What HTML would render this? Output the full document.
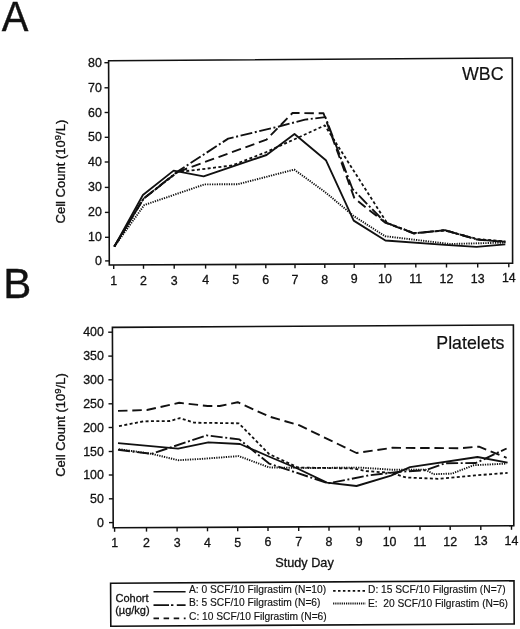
<!DOCTYPE html>
<html><head><meta charset="utf-8"><title>WBC and Platelets</title>
<style>
html,body{margin:0;padding:0;background:#fff;}
svg{display:block;will-change:transform;}
text{font-family:"Liberation Sans", sans-serif;fill:#111;stroke:#111;stroke-width:0.3px;}
.big{stroke-width:0.2px;}
.nos{stroke-width:0.4px;}
.leg{stroke-width:0.15px;}
</style></head><body>
<svg width="520" height="629" viewBox="0 0 520 629">
<rect width="520" height="629" fill="#fff"/>

<text transform="translate(1.8,31) scale(0.94,1)" font-size="42.5" class="nos">A</text>
<text x="3.2" y="297.6" font-size="42" class="nos">B</text>
<polygon points="108.6,60.8 512.3,58.0 512.6,263.2 109.3,265.0" fill="none" stroke="#111" stroke-width="1.6"/>
<line x1="104.4" y1="62.7" x2="108.6" y2="62.7" stroke="#111" stroke-width="1.4"/>
<text x="101.9" y="66.7" font-size="12.4" text-anchor="end">80</text>
<line x1="104.5" y1="87.8" x2="108.7" y2="87.8" stroke="#111" stroke-width="1.4"/>
<text x="101.9" y="91.8" font-size="12.4" text-anchor="end">70</text>
<line x1="104.6" y1="112.5" x2="108.8" y2="112.5" stroke="#111" stroke-width="1.4"/>
<text x="101.9" y="116.5" font-size="12.4" text-anchor="end">60</text>
<line x1="104.7" y1="137.3" x2="108.9" y2="137.3" stroke="#111" stroke-width="1.4"/>
<text x="101.9" y="141.3" font-size="12.4" text-anchor="end">50</text>
<line x1="104.7" y1="162.0" x2="108.9" y2="162.0" stroke="#111" stroke-width="1.4"/>
<text x="101.9" y="166.0" font-size="12.4" text-anchor="end">40</text>
<line x1="104.8" y1="187.4" x2="109.0" y2="187.4" stroke="#111" stroke-width="1.4"/>
<text x="101.9" y="191.4" font-size="12.4" text-anchor="end">30</text>
<line x1="104.9" y1="212.4" x2="109.1" y2="212.4" stroke="#111" stroke-width="1.4"/>
<text x="101.9" y="216.4" font-size="12.4" text-anchor="end">20</text>
<line x1="105.0" y1="237.3" x2="109.2" y2="237.3" stroke="#111" stroke-width="1.4"/>
<text x="101.9" y="241.3" font-size="12.4" text-anchor="end">10</text>
<line x1="105.1" y1="260.9" x2="109.3" y2="260.9" stroke="#111" stroke-width="1.4"/>
<text x="101.9" y="264.9" font-size="12.4" text-anchor="end">0</text>
<line x1="113.7" y1="265.0" x2="113.7" y2="269.0" stroke="#111" stroke-width="1.4"/>
<text x="113.7" y="285.0" font-size="12.4" text-anchor="middle">1</text>
<line x1="143.5" y1="264.8" x2="143.5" y2="268.8" stroke="#111" stroke-width="1.4"/>
<text x="143.5" y="284.8" font-size="12.4" text-anchor="middle">2</text>
<line x1="174.2" y1="264.7" x2="174.2" y2="268.7" stroke="#111" stroke-width="1.4"/>
<text x="174.2" y="284.6" font-size="12.4" text-anchor="middle">3</text>
<line x1="205.6" y1="264.6" x2="205.6" y2="268.6" stroke="#111" stroke-width="1.4"/>
<text x="205.6" y="284.4" font-size="12.4" text-anchor="middle">4</text>
<line x1="235.8" y1="264.4" x2="235.8" y2="268.4" stroke="#111" stroke-width="1.4"/>
<text x="235.8" y="284.2" font-size="12.4" text-anchor="middle">5</text>
<line x1="265.8" y1="264.3" x2="265.8" y2="268.3" stroke="#111" stroke-width="1.4"/>
<text x="265.8" y="284.0" font-size="12.4" text-anchor="middle">6</text>
<line x1="295.0" y1="264.2" x2="295.0" y2="268.2" stroke="#111" stroke-width="1.4"/>
<text x="295.0" y="283.8" font-size="12.4" text-anchor="middle">7</text>
<line x1="324.8" y1="264.0" x2="324.8" y2="268.0" stroke="#111" stroke-width="1.4"/>
<text x="324.8" y="283.6" font-size="12.4" text-anchor="middle">8</text>
<line x1="354.2" y1="263.9" x2="354.2" y2="267.9" stroke="#111" stroke-width="1.4"/>
<text x="354.2" y="283.4" font-size="12.4" text-anchor="middle">9</text>
<line x1="385.0" y1="263.8" x2="385.0" y2="267.8" stroke="#111" stroke-width="1.4"/>
<text x="385.0" y="283.2" font-size="12.4" text-anchor="middle">10</text>
<line x1="415.8" y1="263.6" x2="415.8" y2="267.6" stroke="#111" stroke-width="1.4"/>
<text x="415.8" y="283.0" font-size="12.4" text-anchor="middle">11</text>
<line x1="446.5" y1="263.5" x2="446.5" y2="267.5" stroke="#111" stroke-width="1.4"/>
<text x="446.5" y="282.8" font-size="12.4" text-anchor="middle">12</text>
<line x1="477.7" y1="263.4" x2="477.7" y2="267.4" stroke="#111" stroke-width="1.4"/>
<text x="477.7" y="282.6" font-size="12.4" text-anchor="middle">13</text>
<line x1="508.8" y1="263.2" x2="508.8" y2="267.2" stroke="#111" stroke-width="1.4"/>
<text x="508.8" y="282.4" font-size="12.4" text-anchor="middle">14</text>
<text transform="translate(65.0,171.6) rotate(-90)" x="0" y="0" font-size="13" text-anchor="middle">Cell Count (10<tspan font-size="9.6" dy="-3.7">9</tspan><tspan dy="3.7">/L)</tspan></text>
<text x="503.5" y="80" font-size="17.8" class="big" text-anchor="end">WBC</text>
<polyline points="114.3,246.6 144.3,205.0 204.6,184.4 238.0,184.2 294.2,169.6 325.0,192.0 353.7,216.0 385.0,236.2 450.0,244.0 505.3,242.6" fill="none" stroke="#111" stroke-linejoin="round" stroke-width="1.9" stroke-dasharray="1.25 1.15"/>
<polyline points="114.3,246.6 143.6,198.6 177.5,172.2 232.0,165.5 266.5,152.0 324.8,125.4 387.0,223.0 414.0,233.0 445.0,230.5 477.0,239.0 505.3,241.5" fill="none" stroke="#111" stroke-linejoin="round" stroke-width="1.8" stroke-dasharray="3 2.4"/>
<polyline points="114.3,246.6 143.6,198.6 177.5,172.0 266.5,139.6 292.5,113.0 323.5,113.3 354.5,198.5 385.0,222.5 414.0,233.5 445.0,230.2 477.0,239.5 505.3,242.0" fill="none" stroke="#111" stroke-linejoin="round" stroke-width="1.9" stroke-dasharray="9.5 4.8"/>
<polyline points="114.3,246.6 143.6,198.6 177.5,171.6 228.2,138.6 278.8,126.5 305.0,119.6 325.4,117.1 352.5,189.0 385.0,222.3 414.0,233.3 445.0,230.2 477.0,239.5 505.3,241.8" fill="none" stroke="#111" stroke-linejoin="round" stroke-width="1.9" stroke-dasharray="12 2.6 2 2.6"/>
<polyline points="114.3,246.6 142.9,195.0 173.6,170.6 203.6,176.3 266.5,155.0 294.5,134.0 325.9,160.2 353.7,220.6 385.4,240.5 445.0,244.8 476.5,246.8 505.3,244.3" fill="none" stroke="#111" stroke-linejoin="round" stroke-width="1.85"/>
<polygon points="112.4,327.4 513.4,325.0 513.8,525.8 113.2,527.8" fill="none" stroke="#111" stroke-width="1.6"/>
<line x1="108.2" y1="332.2" x2="112.4" y2="332.2" stroke="#111" stroke-width="1.4"/>
<text x="103.9" y="336.2" font-size="12.4" text-anchor="end">400</text>
<line x1="108.3" y1="356.1" x2="112.5" y2="356.1" stroke="#111" stroke-width="1.4"/>
<text x="103.9" y="360.1" font-size="12.4" text-anchor="end">350</text>
<line x1="108.4" y1="379.8" x2="112.6" y2="379.8" stroke="#111" stroke-width="1.4"/>
<text x="103.9" y="383.8" font-size="12.4" text-anchor="end">300</text>
<line x1="108.5" y1="403.8" x2="112.7" y2="403.8" stroke="#111" stroke-width="1.4"/>
<text x="103.9" y="407.8" font-size="12.4" text-anchor="end">250</text>
<line x1="108.6" y1="427.5" x2="112.8" y2="427.5" stroke="#111" stroke-width="1.4"/>
<text x="103.9" y="431.5" font-size="12.4" text-anchor="end">200</text>
<line x1="108.7" y1="451.5" x2="112.9" y2="451.5" stroke="#111" stroke-width="1.4"/>
<text x="103.9" y="455.5" font-size="12.4" text-anchor="end">150</text>
<line x1="108.8" y1="475.0" x2="113.0" y2="475.0" stroke="#111" stroke-width="1.4"/>
<text x="103.9" y="479.0" font-size="12.4" text-anchor="end">100</text>
<line x1="108.9" y1="498.8" x2="113.1" y2="498.8" stroke="#111" stroke-width="1.4"/>
<text x="103.9" y="502.8" font-size="12.4" text-anchor="end">50</text>
<line x1="109.0" y1="522.6" x2="113.2" y2="522.6" stroke="#111" stroke-width="1.4"/>
<text x="103.9" y="526.6" font-size="12.4" text-anchor="end">0</text>
<line x1="114.6" y1="527.8" x2="114.6" y2="531.8" stroke="#111" stroke-width="1.4"/>
<text x="114.6" y="547.2" font-size="12.4" text-anchor="middle">1</text>
<line x1="146.5" y1="527.6" x2="146.5" y2="531.6" stroke="#111" stroke-width="1.4"/>
<text x="146.5" y="547.0" font-size="12.4" text-anchor="middle">2</text>
<line x1="177.1" y1="527.5" x2="177.1" y2="531.5" stroke="#111" stroke-width="1.4"/>
<text x="177.1" y="546.9" font-size="12.4" text-anchor="middle">3</text>
<line x1="207.5" y1="527.3" x2="207.5" y2="531.3" stroke="#111" stroke-width="1.4"/>
<text x="207.5" y="546.7" font-size="12.4" text-anchor="middle">4</text>
<line x1="237.7" y1="527.2" x2="237.7" y2="531.2" stroke="#111" stroke-width="1.4"/>
<text x="237.7" y="546.6" font-size="12.4" text-anchor="middle">5</text>
<line x1="268.0" y1="527.0" x2="268.0" y2="531.0" stroke="#111" stroke-width="1.4"/>
<text x="268.0" y="546.4" font-size="12.4" text-anchor="middle">6</text>
<line x1="298.7" y1="526.9" x2="298.7" y2="530.9" stroke="#111" stroke-width="1.4"/>
<text x="298.7" y="546.3" font-size="12.4" text-anchor="middle">7</text>
<line x1="329.0" y1="526.7" x2="329.0" y2="530.7" stroke="#111" stroke-width="1.4"/>
<text x="329.0" y="546.1" font-size="12.4" text-anchor="middle">8</text>
<line x1="359.2" y1="526.6" x2="359.2" y2="530.6" stroke="#111" stroke-width="1.4"/>
<text x="359.2" y="546.0" font-size="12.4" text-anchor="middle">9</text>
<line x1="389.6" y1="526.4" x2="389.6" y2="530.4" stroke="#111" stroke-width="1.4"/>
<text x="389.6" y="545.8" font-size="12.4" text-anchor="middle">10</text>
<line x1="420.0" y1="526.3" x2="420.0" y2="530.3" stroke="#111" stroke-width="1.4"/>
<text x="420.0" y="545.7" font-size="12.4" text-anchor="middle">11</text>
<line x1="450.2" y1="526.1" x2="450.2" y2="530.1" stroke="#111" stroke-width="1.4"/>
<text x="450.2" y="545.6" font-size="12.4" text-anchor="middle">12</text>
<line x1="480.8" y1="526.0" x2="480.8" y2="530.0" stroke="#111" stroke-width="1.4"/>
<text x="480.8" y="545.4" font-size="12.4" text-anchor="middle">13</text>
<line x1="511.5" y1="525.8" x2="511.5" y2="529.8" stroke="#111" stroke-width="1.4"/>
<text x="511.5" y="545.3" font-size="12.4" text-anchor="middle">14</text>
<text transform="translate(65.0,425) rotate(-90)" x="0" y="0" font-size="13" text-anchor="middle">Cell Count (10<tspan font-size="9.6" dy="-3.7">9</tspan><tspan dy="3.7">/L)</tspan></text>
<text x="504.5" y="349" font-size="17.8" class="big" text-anchor="end">Platelets</text>
<polyline points="119.0,449.2 151.5,453.8 178.1,460.2 200.0,459.0 238.8,456.1 269.1,467.4 310.0,468.0 360.0,467.6 392.3,469.7 425.4,469.6 433.5,474.2 451.9,473.6 473.8,465.2 506.6,463.6" fill="none" stroke="#111" stroke-linejoin="round" stroke-width="1.9" stroke-dasharray="1.25 1.15"/>
<polyline points="119.0,426.1 143.8,421.3 170.0,421.0 179.8,418.1 194.2,422.7 238.8,423.3 269.0,454.0 298.0,467.5 353.8,468.5 365.4,471.0 392.0,473.0 406.0,477.5 438.0,478.8 475.0,475.4 507.6,472.9" fill="none" stroke="#111" stroke-linejoin="round" stroke-width="1.8" stroke-dasharray="3 2.4"/>
<polyline points="118.0,410.9 146.9,410.0 179.2,402.8 207.7,406.0 219.8,406.0 237.7,402.2 269.1,416.5 299.0,425.2 356.5,453.0 392.3,447.8 460.0,448.2 479.0,446.6 506.6,457.8" fill="none" stroke="#111" stroke-linejoin="round" stroke-width="1.9" stroke-dasharray="9.5 4.8"/>
<polyline points="118.0,449.8 151.5,453.8 206.5,435.4 239.4,439.4 269.1,463.6 328.3,483.3 370.0,475.2 400.4,471.7 425.4,470.2 445.0,463.3 475.9,463.0 506.6,448.5" fill="none" stroke="#111" stroke-linejoin="round" stroke-width="1.9" stroke-dasharray="12 2.6 2 2.6"/>
<polyline points="118.0,443.2 178.1,448.6 208.3,442.3 240.0,444.0 270.0,457.0 298.5,469.0 326.9,482.6 356.5,486.0 391.0,475.6 410.0,467.2 477.5,457.0 507.6,462.7" fill="none" stroke="#111" stroke-linejoin="round" stroke-width="1.85"/>
<text x="304.5" y="566.5" font-size="12.7" text-anchor="middle">Study Day</text>
<polygon points="110.6,583.3 514.0,580.8 514.2,624.0 110.8,626.2" fill="none" stroke="#111" stroke-width="1.6"/>
<text x="115.5" y="602.1" font-size="11">Cohort</text>
<text x="115.2" y="613.6" font-size="11">(µg/kg)</text>
<line x1="153.5" y1="591.8" x2="185.6" y2="591.8" stroke="#111" stroke-width="1.6"/>
<text x="189.0" y="593.2" font-size="10.22" class="leg">A: 0 SCF/10 Filgrastim (N=10)</text>
<line x1="153.5" y1="605.2" x2="185.6" y2="605.2" stroke="#111" stroke-width="1.7" stroke-dasharray="15.5 2 2.4 3.4 20"/>
<text x="189.0" y="606.2" font-size="10.22" class="leg">B: 5 SCF/10 Filgrastim (N=6)</text>
<line x1="153.5" y1="618.3" x2="185.6" y2="618.3" stroke="#111" stroke-width="1.7" stroke-dasharray="5.5 4.6"/>
<text x="189.0" y="620.0" font-size="10.22" class="leg">C: 10 SCF/10 Filgrastim (N=6)</text>
<line x1="333.1" y1="590.9" x2="365.6" y2="590.9" stroke="#111" stroke-width="1.6" stroke-dasharray="2.5 2.4"/>
<text x="368.0" y="593.0" font-size="10.22" class="leg">D: 15 SCF/10 Filgrastim (N=7)</text>
<line x1="333.1" y1="603.6" x2="365.6" y2="603.6" stroke="#111" stroke-width="2" stroke-dasharray="1.2 0.95"/>
<text x="368.0" y="606.5" font-size="10.22" class="leg">E:&#160; 20 SCF/10 Filgrastim (N=6)</text>
</svg>
</body></html>
